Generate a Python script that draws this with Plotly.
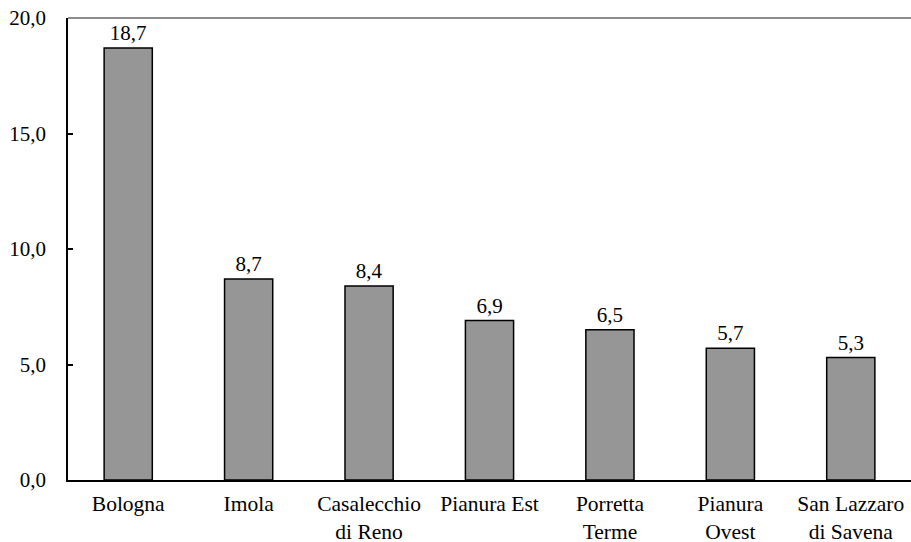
import plotly.graph_objects as go

categories = ["Bologna", "Imola", "Casalecchio<br>di Reno", "Pianura Est",
              "Porretta<br>Terme", "Pianura<br>Ovest", "San Lazzaro<br>di Savena"]
values = [18.7, 8.7, 8.4, 6.9, 6.5, 5.7, 5.3]
y_ticks = [0, 5, 10, 15, 20]

FONT = "Liberation Serif, Times New Roman, serif"

fig = go.Figure(go.Bar(
    x=categories, y=values,
    marker=dict(color="#969696", line=dict(color="black", width=1.5)),
    texttemplate="%{y:.1f}", textposition="outside",
    textfont=dict(family=FONT, size=21, color="black"),
    cliponaxis=False,
))

fig.update_layout(
    width=911, height=542,
    margin=dict(l=68, r=0, t=18, b=62),
    paper_bgcolor="white", plot_bgcolor="white",
    separators=",.",
    bargap=0.6,
    showlegend=False,
    font=dict(family=FONT, size=21, color="black"),
    xaxis=dict(showline=True, linecolor="black", linewidth=2, ticks="",
               showgrid=False, tickfont=dict(size=21.5), ticklabelstandoff=3,
               automargin=False),
    yaxis=dict(range=[0, 20], tickvals=y_ticks, tickformat=".1f",
               showline=True, linecolor="black", linewidth=1.5,
               ticks="inside", ticklen=5, tickwidth=1.5, tickcolor="black",
               showgrid=False, zeroline=False, tickfont=dict(size=21),
               ticklabelstandoff=16, automargin=False),
    shapes=[dict(type="line", xref="paper", yref="paper", x0=0, x1=1, y0=1, y1=1,
                 line=dict(color="#8c8c8c", width=2))],
)

fig.write_html("out.html", config={"displayModeBar": False},
               post_script="document.body.style.margin='0';document.body.style.overflow='hidden';")
